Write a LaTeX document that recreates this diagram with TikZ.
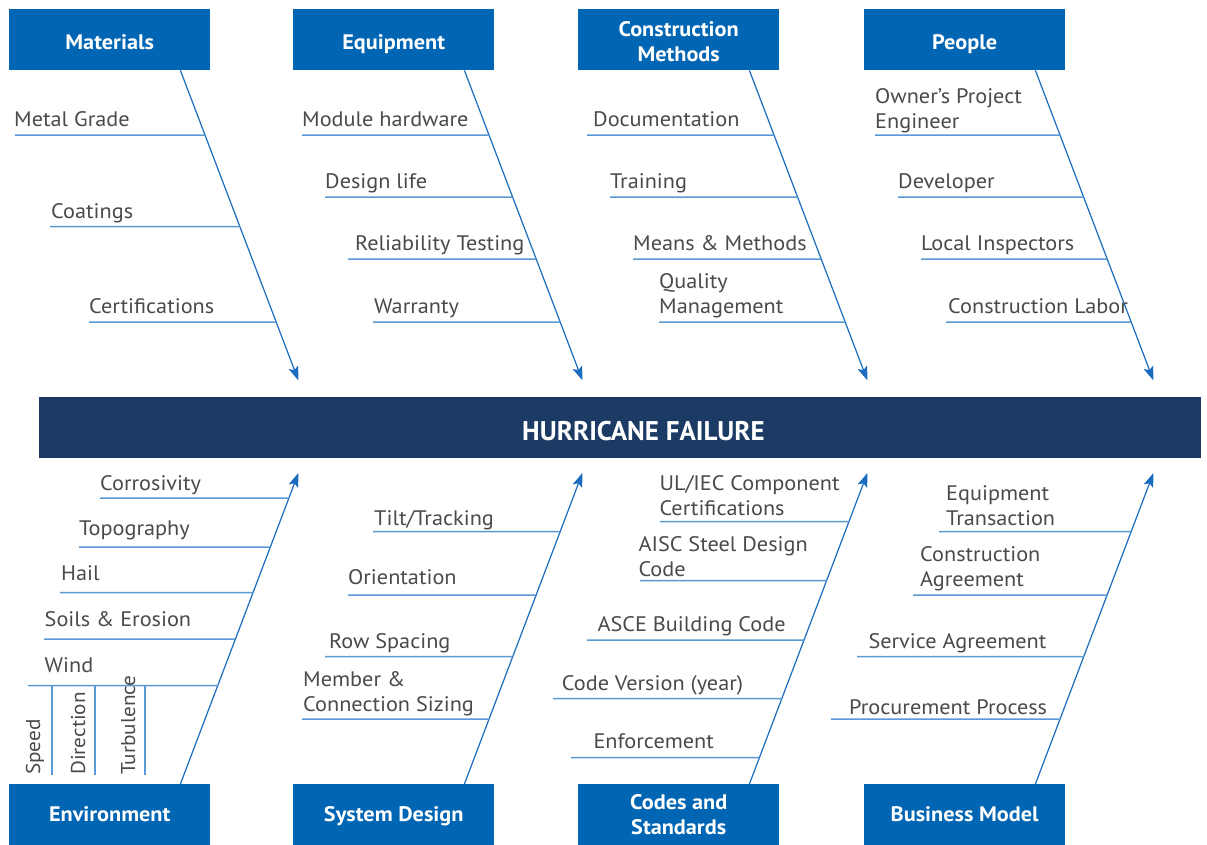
\documentclass[tikz,border=0pt]{standalone}
\usepackage{fontspec}
\setmainfont{PT Sans}[FakeStretch=1.06]
\newfontfamily\barfont{PT Sans}
\usetikzlibrary{arrows.meta,calc}

\definecolor{boxblue}{HTML}{0065B3}
\definecolor{barblue}{HTML}{1B3A64}
\definecolor{spineblue}{HTML}{1A6CBF}
\definecolor{ribblue}{HTML}{5A9AD4}
\definecolor{textgray}{HTML}{4A4A4A}

\tikzset{
  catbox/.style={fill=boxblue, text=white, inner sep=0pt, align=center,
    minimum width=201pt, minimum height=61pt, anchor=north west,
    font=\bfseries\fontsize{21}{25}\selectfont},
  topline/.style={text height=20pt, text depth=0pt},
  botline/.style={text height=13pt, text depth=0pt},
  headbar/.style={fill=barblue, text=white, inner sep=0pt,
    minimum width=1162pt, minimum height=61pt,
    text height=25pt, text depth=0pt,
    font=\barfont\bfseries\fontsize{27}{30}\selectfont},
  spine/.style={draw=spineblue, line width=1.2pt, -{Stealth[length=14pt,width=10pt,inset=3pt]}},
  ribline/.style={draw=ribblue, line width=1.5pt},
  cause/.style={text=textgray, inner sep=0pt, anchor=base west, align=left,
    font=\fontsize{21}{25}\selectfont},
  subcause/.style={cause, rotate=90, font=\fontsize{20}{24}\selectfont},
}

% one cause: horizontal rib from x0 to the spine, with its label above
% #1 name, #2 spine, #3 rib start x, #4 rib y, #5 label x,
% #6 baseline of the label's last line, #7 label
\newcommand\causerib[7]{%
  \coordinate (#1) at (intersection of #2S--#2E and 0,#4--10,#4);
  \coordinate (#1-w) at (#3,#4);
  \draw[ribline] (#1-w) -- (#1);
  \node[cause] (#1-lab) at (#5,#6) {#7};
}

\begin{document}
\begin{tikzpicture}[x=1pt,y=-1pt]
  \useasboundingbox[fill=white] (0,0) rectangle (1207,844);

  % category boxes
  \node[catbox,topline] (mat) at (9,9) {Materials};
  \node[catbox,topline] (equ) at (293,9) {Equipment};
  \node[catbox,text height=44pt,text depth=0pt] (con) at (578,9) {Construction\\Methods};
  \node[catbox,topline] (peo) at (864,9) {People};
  \node[catbox,botline] (env) at (9,784) {Environment};
  \node[catbox,botline] (sys) at (293,784) {System Design};
  \node[catbox] (cod) at (578,784) {Codes and\\Standards};
  \node[catbox,botline] (bus) at (864,784) {Business Model};

  % effect
  \node[headbar] (effect) at (620,427.5) {\hspace*{47pt}HURRICANE FAILURE};

  % spines: from each box towards the effect bar
  \foreach \b in {mat,equ,con,peo}{
    \coordinate (\b S) at ($(\b.south east)+(-30,0)$);
    \coordinate (\b E) at ($(\b S)+(118,310)$);
    \draw[spine] (\b S) -- (\b E);
  }
  \foreach \b in {env,sys,cod,bus}{
    \coordinate (\b S) at ($(\b.north east)+(-30,0)$);
    \coordinate (\b E) at ($(\b S)+(118,-311)$);
    \draw[spine] (\b S) -- (\b E);
  }

  % Materials
  \causerib{mat1}{mat}{15}{135}{14}{126}{Metal Grade}
  \causerib{mat2}{mat}{50}{226.5}{51}{218}{Coatings}
  \causerib{mat3}{mat}{89}{322}{89}{313.3}{Certifications}
  % Equipment
  \causerib{equ1}{equ}{302}{135}{302}{126.7}{Module hardware}
  \causerib{equ2}{equ}{325}{197}{325}{188.3}{Design life}
  \causerib{equ3}{equ}{348}{259}{355}{250}{Reliability Testing}
  \causerib{equ4}{equ}{373}{322}{374}{313.3}{Warranty}
  % Construction Methods
  \causerib{con1}{con}{587}{135}{593}{126.7}{Documentation}
  \causerib{con2}{con}{610}{197}{610}{188.3}{Training}
  \causerib{con3}{con}{633}{259}{633}{250.7}{Means \& Methods}
  \causerib{con4}{con}{659}{322}{659}{313.3}{Quality\\Management}
  % People
  \causerib{peo1}{peo}{875}{135}{875}{128.3}{Owner’s Project\\Engineer}
  \causerib{peo2}{peo}{898}{197}{898}{188.3}{Developer}
  \causerib{peo3}{peo}{921}{259}{921}{250}{Local Inspectors}
  \causerib{peo4}{peo}{946}{322}{948}{313.3}{Construction Labor}

  % Environment
  \causerib{env1}{env}{100}{498}{100}{490.7}{Corrosivity}
  \causerib{env2}{env}{79}{547}{79}{535}{Topography}
  \causerib{env3}{env}{60}{592.5}{61}{580.7}{Hail}
  \causerib{env4}{env}{44}{639}{44.5}{626.5}{Soils \& Erosion}
  \causerib{env5}{env}{28}{685.5}{44.5}{672.5}{Wind}
  % wind sub-causes hanging from the Wind rib
  \foreach \n/\x/\bx/\t in {spd/52/40/Speed, dir/95/85/Direction, tur/145/135/Turbulence}{
    \coordinate (\n-top) at (\x,685.5);
    \coordinate (\n-bot) at (\x,775);
    \draw[ribline] (\n-top) -- (\n-bot);
    \node[subcause] (\n-lab) at (\bx,775) {\t};
  }
  % System Design
  \causerib{sys1}{sys}{373}{531.7}{374}{525}{Tilt/Tracking}
  \causerib{sys2}{sys}{348}{595}{348}{584.3}{Orientation}
  \causerib{sys3}{sys}{325}{656.7}{329}{648.3}{Row Spacing}
  \causerib{sys4}{sys}{302}{719}{303}{711.7}{Member \&\\Connection Sizing}
  % Codes and Standards
  \causerib{cod1}{cod}{660}{521.7}{659.3}{515}{UL/IEC Component\\Certifications}
  \causerib{cod2}{cod}{640}{580.7}{638.3}{576}{AISC Steel Design\\Code}
  \causerib{cod3}{cod}{587}{640}{597.3}{631.7}{ASCE Building Code}
  \causerib{cod4}{cod}{553}{698.7}{561.7}{690.7}{Code Version (year)}
  \causerib{cod5}{cod}{571}{757.7}{593.3}{748.3}{Enforcement}
  % Business Model
  \causerib{bus1}{bus}{939}{531.7}{946}{525}{Equipment\\Transaction}
  \causerib{bus2}{bus}{913}{595}{920}{586.7}{Construction\\Agreement}
  \causerib{bus3}{bus}{857}{656.7}{868.3}{648.3}{Service Agreement}
  \causerib{bus4}{bus}{831}{719}{849}{714}{Procurement Process}
\end{tikzpicture}
\end{document}
